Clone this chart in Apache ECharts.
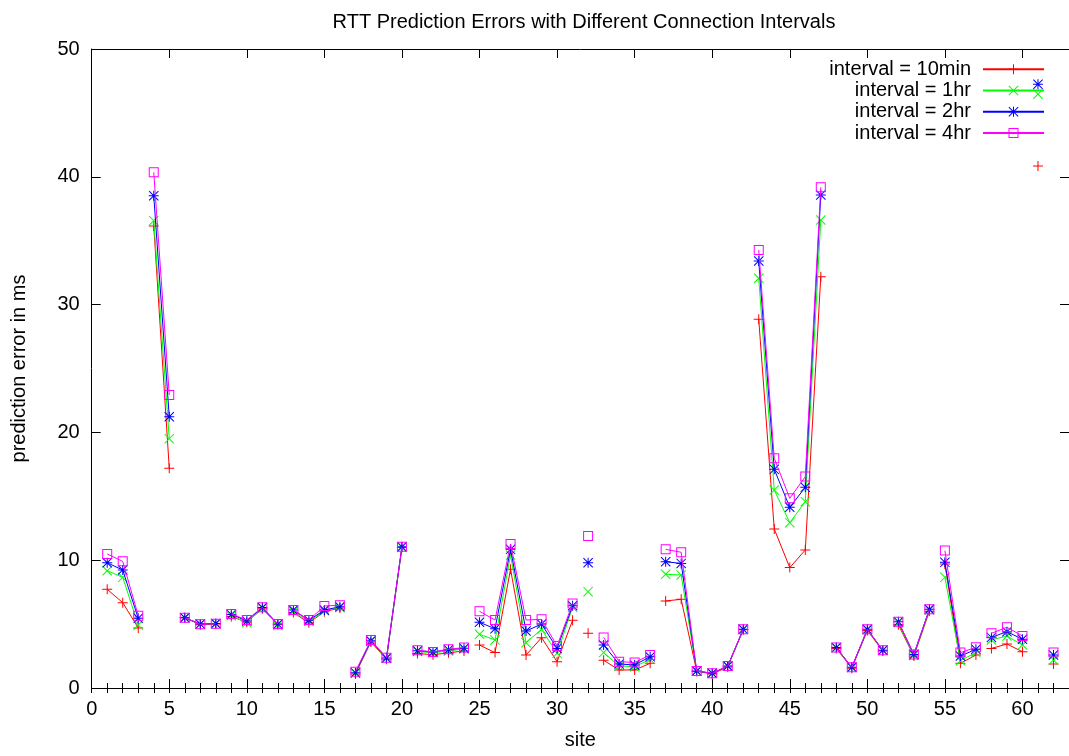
<!DOCTYPE html>
<html>
<head>
<meta charset="utf-8">
<script src="https://cdn.jsdelivr.net/npm/echarts@6/dist/echarts.min.js"></script>
<style>
html,body{margin:0;padding:0;background:#fff;}
#chart{width:1069px;height:756px;}
</style>
</head>
<body>
<div id="chart"></div>
<script>
// sites 1..62
const sites = [1,2,3,4,5,6,7,8,9,10,11,12,13,14,15,16,17,18,19,20,21,22,23,24,25,26,27,28,29,30,31,32,33,34,35,36,37,38,39,40,41,42,43,44,45,46,47,48,49,50,51,52,53,54,55,56,57,58,59,60,61,62];
// line breaks after these sites
const breaksAfter = [3,5,8,12,16,20,24,31,32,36,42,47,51,54,57,60,61];

const interval10min = [7.72,6.68,4.70,36.15,17.20,5.50,4.95,5.00,5.60,5.15,6.20,4.95,5.90,5.10,5.97,6.26,1.10,3.60,2.25,11.00,2.70,2.60,2.75,2.90,3.36,2.77,9.29,2.58,3.94,2.06,5.30,4.28,2.17,1.41,1.41,1.93,6.81,6.94,1.30,1.10,1.65,4.55,28.85,12.44,9.42,10.80,32.18,3.10,1.55,4.50,2.90,4.95,2.50,6.00,9.70,1.93,2.58,3.10,3.44,2.84,40.85,1.88];
const interval1hr = [9.18,8.66,4.93,36.57,19.51,5.50,5.00,5.03,5.65,5.10,6.25,4.90,6.00,5.20,6.05,6.30,1.15,3.65,2.30,11.00,2.85,2.75,2.90,3.05,4.20,3.76,10.40,3.55,4.59,2.71,6.31,7.54,2.77,1.72,1.67,2.24,8.90,8.84,1.33,1.15,1.70,4.59,32.06,15.49,12.94,14.58,36.62,3.15,1.60,4.55,2.95,5.10,2.55,6.10,8.66,2.14,2.77,3.76,4.07,3.36,46.46,2.19];
const interval2hr = [9.80,9.23,5.45,38.52,21.23,5.50,5.00,5.05,5.76,5.25,6.30,5.00,6.10,5.30,6.10,6.36,1.20,3.70,2.35,11.06,2.92,2.82,3.00,3.12,5.14,4.64,10.85,4.46,5.00,3.10,6.44,9.80,3.36,1.88,1.80,2.45,9.88,9.75,1.33,1.15,1.72,4.59,33.41,17.11,14.14,15.70,38.58,3.16,1.62,4.59,2.95,5.19,2.63,6.16,9.83,2.50,3.03,3.96,4.41,3.81,47.24,2.58];
const interval4hr = [10.49,9.91,5.66,40.35,22.93,5.50,4.98,5.03,5.80,5.32,6.31,5.00,6.10,5.32,6.42,6.47,1.28,3.75,2.37,11.06,2.95,2.82,3.03,3.16,6.00,5.32,11.27,5.32,5.37,3.29,6.62,11.89,3.96,2.06,2.00,2.58,10.85,10.62,1.33,1.15,1.72,4.59,34.27,17.97,14.84,16.54,39.18,3.16,1.62,4.59,2.95,5.19,2.63,6.16,10.75,2.77,3.18,4.28,4.75,4.07,null,2.77];

const seriesNames = ['interval = 10min','interval = 1hr','interval = 2hr','interval = 4hr'];
const seriesColors = ['#ff0000','#00ff00','#0000ff','#ff00ff'];
const xTickLabels = [0,5,10,15,20,25,30,35,40,45,50,55,60];
const yTickLabels = [0,10,20,30,40,50];

const SYM_PLUS = 'path://M0,4.5H10V5.5H0Z M4.5,0H5.5V10H4.5Z';
const SYM_X = 'path://M0,0.7L0.7,0L10,9.3L9.3,10Z M9.3,0L10,0.7L0.7,10L0,9.3Z';
const SYM_STAR = 'path://M0,4.5H10V5.5H0Z M4.5,0H5.5V10H4.5Z M0,0.7L0.7,0L10,9.3L9.3,10Z M9.3,0L10,0.7L0.7,10L0,9.3Z';
const SYM_SQ = 'path://M0,0H10V10H0Z M1,1V9H9V1Z';
const symbols = [SYM_PLUS, SYM_X, SYM_STAR, SYM_SQ];

function buildData(vals){
  const out = [];
  sites.forEach((s, i) => {
    const v = vals[i];
    out.push([s, v == null ? '-' : v]);
    if (breaksAfter.indexOf(s) >= 0) out.push([s, '-']);
  });
  return out;
}

const FONT = 'Liberation Sans, Arial, Helvetica, sans-serif';
const FS = 20;
const allVals = [interval10min, interval1hr, interval2hr, interval4hr];

const chart = echarts.init(document.getElementById('chart'), null, {renderer:'canvas'});

const gridLeft = 91.7, gridTop = 49, gridW = 978.6, gridH = 639;

const baseAxis = {
  min: 0, max: 63, type: 'value',
  splitLine: {show:false},
  axisLine: {show:true, onZero:false, lineStyle:{color:'#000', width:1}},
};

const option = {
  animation: false,
  backgroundColor: '#fff',
  title: {
    text: 'RTT Prediction Errors with Different Connection Intervals',
    left: 579, top: 7, textAlign: 'center',
    textStyle: {fontFamily: FONT, fontSize: FS, fontWeight: 'normal', color: '#000'}
  },
  legend: {
    orient: 'vertical', right: 24, top: 58.5, align: 'right',
    itemWidth: 61, itemHeight: 12.5, itemGap: 0, padding: 0,
    selectedMode: false,
    textStyle: {fontFamily: FONT, fontSize: FS, color: '#000', lineHeight: 21.3, padding: [0, 7, 0, 0]},
    data: seriesNames.map((n) => ({name: n}))
  },
  grid: {left: gridLeft, top: gridTop, width: gridW, height: gridH, containLabel: false},
  xAxis: [
    Object.assign({}, baseAxis, {
      position: 'bottom', interval: 5,
      name: 'site', nameLocation: 'middle', nameGap: 42,
      nameTextStyle: {fontFamily: FONT, fontSize: FS, color: '#000'},
      axisTick: {show:true, inside:true, length:9, lineStyle:{color:'#000'}},
      axisLabel: {show:true, margin: 11, fontFamily: FONT, fontSize: FS, color:'#000', showMaxLabel:false,
        formatter: (v) => xTickLabels.indexOf(v) >= 0 ? String(v) : ''}
    }),
    Object.assign({}, baseAxis, {
      position: 'bottom', interval: 1,
      axisLine: {show:false},
      axisTick: {show:true, inside:true, length:5, lineStyle:{color:'#000'}},
      axisLabel: {show:false}
    }),
    Object.assign({}, baseAxis, {
      position: 'top', interval: 5,
      axisTick: {show:true, inside:true, length:9, lineStyle:{color:'#000'}},
      axisLabel: {show:false}
    }),
    Object.assign({}, baseAxis, {
      position: 'top', interval: 1,
      axisLine: {show:false},
      axisTick: {show:true, inside:true, length:5, lineStyle:{color:'#000'}},
      axisLabel: {show:false}
    })
  ],
  yAxis: [
    {
      type: 'value', min: 0, max: 50, interval: 10, position: 'left',
      name: 'prediction error in ms', nameLocation: 'middle', nameGap: 62, nameRotate: 90,
      nameTextStyle: {fontFamily: FONT, fontSize: FS, color: '#000'},
      splitLine: {show:false},
      axisLine: {show:true, onZero:false, lineStyle:{color:'#000', width:1}},
      axisTick: {show:true, inside:true, length:9, lineStyle:{color:'#000'}},
      axisLabel: {show:true, margin: 12, fontFamily: FONT, fontSize: FS, color:'#000',
        formatter: (v) => yTickLabels.indexOf(v) >= 0 ? String(v) : ''}
    },
    {
      type: 'value', min: 0, max: 50, interval: 10, position: 'right',
      splitLine: {show:false},
      axisLine: {show:true, onZero:false, lineStyle:{color:'#000', width:1}},
      axisTick: {show:true, inside:true, length:9, lineStyle:{color:'#000'}},
      axisLabel: {show:false}
    }
  ],
  series: seriesNames.map((n, k) => ({
    name: n, type: 'line', xAxisIndex: 0, yAxisIndex: 0,
    data: buildData(allVals[k]),
    connectNulls: false,
    symbol: symbols[k], symbolSize: 10,
    showAllSymbol: true,
    itemStyle: {color: seriesColors[k]},
    lineStyle: {color: seriesColors[k], width: 1},
    emphasis: {disabled: true},
    silent: true,
    clip: true,
    z: 2 + k
  }))
};
chart.setOption(option);
</script>
</body>
</html>
